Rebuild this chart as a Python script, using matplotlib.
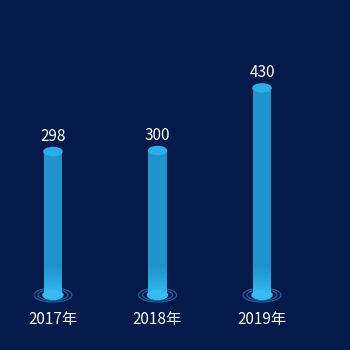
import matplotlib
matplotlib.use('Agg')
import matplotlib.pyplot as plt
from matplotlib.patches import Ellipse
from matplotlib.colors import to_rgb
import numpy as np

plt.rcParams['font.family'] = ['Noto Sans CJK SC', 'DejaVu Sans']

years = ['2017年', '2018年', '2019年']
values = [298, 300, 430]

bg = '#041a4a'
fig = plt.figure(figsize=(3.5, 3.5), dpi=100, facecolor=bg)
ax = fig.add_axes([0.002, 55 / 350, 0.896, 0.688])
ax.set_facecolor(bg)
ax.set_xlim(-0.5, 2.5)
ax.set_ylim(0, 500)

px_x = 104.5  # pixels per category
px_y = 0.4814  # pixels per value unit
bw = 18 / px_x

body = np.array(to_rgb('#2092cc'))
light = np.array(to_rgb('#34b8f0'))

x = np.arange(len(years))
for xi, v in zip(x, values):
    ax.bar(xi, v, width=bw, color='#2092cc', zorder=2, linewidth=0)
    # fade to lighter near the base
    n = 30
    edges = np.linspace(0, 60, n + 1)
    for k in range(n):
        t = k / n
        c = light * (1 - t) + body * t
        ax.bar(xi, edges[k + 1] - edges[k], bottom=edges[k], width=bw,
               color=c, linewidth=0, zorder=3)
    # rings at the base
    for w, h in [(38, 14), (30, 11)]:
        ax.add_patch(Ellipse((xi, 0), w / px_x, h / px_y, fill=False,
                             edgecolor='#1a5f9c', lw=0.9, zorder=1, clip_on=False))
    ax.add_patch(Ellipse((xi, 0), 20 / px_x, 9 / px_y, color='#38bbf2',
                         zorder=4, clip_on=False))
    # top cap
    ax.add_patch(Ellipse((xi, v), bw, 8 / px_y, color='#2aaeea', zorder=4))
    ax.text(xi, v + 15 / px_y, str(v), color='white', fontsize=11,
            ha='center', va='center', zorder=5)
    ax.text(xi, -24 / px_y, years[xi], color='white', fontsize=11,
            ha='center', va='center', clip_on=False)

ax.set_xticks([])
ax.set_yticks([])
for s in ax.spines.values():
    s.set_visible(False)

fig.savefig('out.png', dpi=100, facecolor=bg)
